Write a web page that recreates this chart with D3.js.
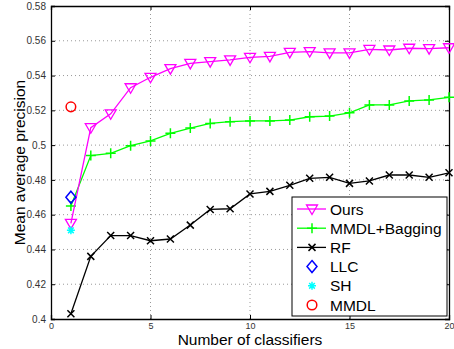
<!DOCTYPE html>
<html>
<head>
<meta charset="utf-8">
<script src="https://cdn.jsdelivr.net/npm/d3@7"></script>
<style>
  body { margin: 0; background: #fff; }
  text { font-family: "Liberation Sans", Arial, sans-serif; }
</style>
</head>
<body>
<svg id="chart"></svg>
<script>
let classifiers = d3.range(1, 21)
let ours = [0.455, 0.510, 0.518, 0.533, 0.539, 0.544, 0.547, 0.548, 0.549, 0.5505, 0.551, 0.5533, 0.5538, 0.553, 0.553, 0.555, 0.5547, 0.5557, 0.5555, 0.556]
let bagging = [0.465, 0.494, 0.4953, 0.4997, 0.5024, 0.5068, 0.5098, 0.5125, 0.5135, 0.5139, 0.5139, 0.5144, 0.5163, 0.5167, 0.5186, 0.5231, 0.5231, 0.5254, 0.526, 0.5275]
let rf = [0.403, 0.436, 0.448, 0.448, 0.445, 0.446, 0.454, 0.463, 0.4634, 0.4719, 0.4734, 0.4769, 0.4809, 0.4815, 0.478, 0.4794, 0.4828, 0.4828, 0.4815, 0.4841]
let llc = [0.470]
let sh = [0.451]
let mmdl = [0.522]
let xTicks = [0, 5, 10, 15, 20]
let yTicks = [0.4, 0.42, 0.44, 0.46, 0.48, 0.5, 0.52, 0.54, 0.56, 0.58]
let legendNames = ["Ours", "MMDL+Bagging", "RF", "LLC", "SH", "MMDL"]

let width = 454, height = 349
let pLeft = 51, pRight = 449, pTop = 6, pBottom = 319

let svg = d3.select('#chart')
    .attr('width', width)
    .attr('height', height)

let x = d3.scaleLinear().domain([0, 20]).range([pLeft, pRight])
let y = d3.scaleLinear().domain([0.4, 0.58]).range([pBottom, pTop])

// dotted grid
svg.append("g").selectAll("line")
    .data(yTicks.slice(1, -1))
    .enter().append("line")
    .attr("x1", pLeft).attr("x2", pRight)
    .attr("y1", d => y(d)).attr("y2", d => y(d))
    .attr("stroke", "#999").attr("stroke-dasharray", "1,3")
svg.append("g").selectAll("line")
    .data(xTicks.slice(1, -1))
    .enter().append("line")
    .attr("y1", pTop).attr("y2", pBottom)
    .attr("x1", d => x(d)).attr("x2", d => x(d))
    .attr("stroke", "#999").attr("stroke-dasharray", "1,3")

// axes with inward ticks
let xAxis = svg.append("g")
    .attr("transform", "translate(0," + pBottom + ")")
    .call(d3.axisBottom(x).tickValues(xTicks).tickSize(-4).tickPadding(4).tickFormat(d3.format("d")))
let xAxisTop = svg.append("g")
    .attr("transform", "translate(0," + pTop + ")")
    .call(d3.axisTop(x).tickValues(xTicks).tickSize(-4).tickFormat(""))
let yAxis = svg.append("g")
    .attr("transform", "translate(" + pLeft + ",0)")
    .call(d3.axisLeft(y).tickValues(yTicks).tickSize(-4).tickPadding(5).tickFormat(d => String(+d.toFixed(2))))
let yAxisRight = svg.append("g")
    .attr("transform", "translate(" + pRight + ",0)")
    .call(d3.axisRight(y).tickValues(yTicks).tickSize(-4).tickFormat(""))

svg.selectAll(".domain").attr("stroke", "#000").attr("stroke-width", 1.3)
svg.selectAll(".tick line").attr("stroke", "#000")
xAxis.selectAll("text").attr("font-size", 9).attr("fill", "#333")
yAxis.selectAll("text").attr("font-size", 10).attr("fill", "#333")

let line = d3.line().x((d, i) => x(classifiers[i])).y(d => y(d))

function triangle(g, cx, cy) {
    g.append("path")
        .attr("d", "M" + (cx - 5.5) + "," + (cy - 4) + "L" + (cx + 5.5) + "," + (cy - 4) + "L" + cx + "," + (cy + 5.5) + "Z")
        .attr("fill", "none").attr("stroke", "#ff00ff").attr("stroke-width", 1.3)
}
function plus(g, cx, cy, color) {
    g.append("path")
        .attr("d", "M" + (cx - 5) + "," + cy + "H" + (cx + 5) + "M" + cx + "," + (cy - 5) + "V" + (cy + 5))
        .attr("stroke", color).attr("stroke-width", 1.5)
}
function cross(g, cx, cy) {
    g.append("path")
        .attr("d", "M" + (cx - 3.5) + "," + (cy - 3.5) + "L" + (cx + 3.5) + "," + (cy + 3.5) + "M" + (cx - 3.5) + "," + (cy + 3.5) + "L" + (cx + 3.5) + "," + (cy - 3.5))
        .attr("stroke", "#000").attr("stroke-width", 1.5)
}
function diamond(g, cx, cy) {
    g.append("path")
        .attr("d", "M" + cx + "," + (cy - 6) + "L" + (cx + 5) + "," + cy + "L" + cx + "," + (cy + 6) + "L" + (cx - 5) + "," + cy + "Z")
        .attr("fill", "none").attr("stroke", "#0000ff").attr("stroke-width", 1.5)
}
function star(g, cx, cy) {
    let p = ""
    for (let k = 0; k < 4; k++) {
        let a = k * Math.PI / 4
        p += "M" + (cx - 4 * Math.cos(a)) + "," + (cy - 4 * Math.sin(a)) + "L" + (cx + 4 * Math.cos(a)) + "," + (cy + 4 * Math.sin(a))
    }
    g.append("path").attr("d", p).attr("stroke", "#00ffff").attr("stroke-width", 1.5)
}
function circle(g, cx, cy) {
    g.append("circle").attr("cx", cx).attr("cy", cy).attr("r", 4.8)
        .attr("fill", "none").attr("stroke", "#ff0000").attr("stroke-width", 1.5)
}

let plot = svg.append("g")

// RF
plot.append("path").datum(rf).attr("d", line)
    .attr("fill", "none").attr("stroke", "#000").attr("stroke-width", 1.3)
rf.forEach((v, i) => cross(plot, x(classifiers[i]), y(v)))
// MMDL+Bagging
plot.append("path").datum(bagging).attr("d", line)
    .attr("fill", "none").attr("stroke", "#00ff00").attr("stroke-width", 1.3)
bagging.forEach((v, i) => plus(plot, x(classifiers[i]), y(v), "#00ff00"))
// Ours
plot.append("path").datum(ours).attr("d", line)
    .attr("fill", "none").attr("stroke", "#ff00ff").attr("stroke-width", 1.3)
ours.forEach((v, i) => triangle(plot, x(classifiers[i]), y(v)))
// single points
diamond(plot, x(1), y(llc[0]))
star(plot, x(1), y(sh[0]))
circle(plot, x(1), y(mmdl[0]))

// legend
let lg = svg.append("g")
lg.append("rect").attr("x", 292).attr("y", 197).attr("width", 155).attr("height", 119)
    .attr("fill", "#fff").attr("stroke", "#000").attr("stroke-width", 1)
let rowY = d => 209 + d * 19.2
let mx = 312
lg.append("line").attr("x1", 297).attr("x2", 326).attr("y1", rowY(0)).attr("y2", rowY(0)).attr("stroke", "#ff00ff").attr("stroke-width", 1.3)
triangle(lg, mx, rowY(0))
lg.append("line").attr("x1", 297).attr("x2", 326).attr("y1", rowY(1)).attr("y2", rowY(1)).attr("stroke", "#00ff00").attr("stroke-width", 1.3)
plus(lg, mx, rowY(1), "#00ff00")
lg.append("line").attr("x1", 297).attr("x2", 326).attr("y1", rowY(2)).attr("y2", rowY(2)).attr("stroke", "#000").attr("stroke-width", 1.3)
cross(lg, mx, rowY(2))
diamond(lg, mx, rowY(3))
star(lg, mx, rowY(4))
circle(lg, mx, rowY(5))
lg.selectAll("text.lbl").data(legendNames).enter().append("text")
    .attr("x", 330).attr("y", (d, i) => rowY(i) + 5.5)
    .attr("font-size", 15.5).attr("fill", "#000")
    .text(d => d)

// axis titles
svg.append("text").attr("x", (pLeft + pRight) / 2).attr("y", 345)
    .attr("text-anchor", "middle").attr("font-size", 15.5).text("Number of classifiers")
svg.append("text").attr("transform", "translate(25," + ((pTop + pBottom) / 2) + ") rotate(-90)")
    .attr("text-anchor", "middle").attr("font-size", 15.5).text("Mean average precision")
</script>
</body>
</html>
